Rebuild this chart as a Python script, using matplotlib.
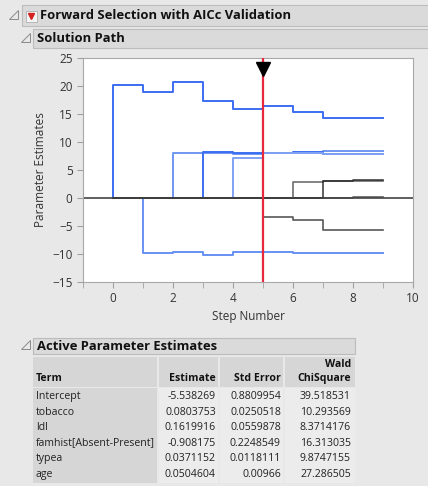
import matplotlib.pyplot as plt
from matplotlib.patches import Rectangle, Polygon
import numpy as np

# solution path: estimate of each term at steps 0..8 (held until step 9)
steps = np.arange(0, 10)
path_a = [20.2, 18.9, 20.7, 17.4, 15.9, 16.5, 15.4, 14.3, 14.3]
path_b = [0, -9.9, -9.7, -10.2, -9.7, -9.7, -9.9, -9.9, -9.9]
path_c = [0, 0, 8.0, 8.1, 7.9, 8.0, 8.1, 8.4, 8.4]
path_d = [0, 0, 0, 8.2, 8.0, 8.1, 8.2, 7.8, 7.8]
path_e = [0, 0, 0, 0, 7.2, 8.1, 8.0, 7.9, 7.9]
path_f = [0, 0, 0, 0, 0, -3.4, -3.9, -5.8, -5.8]
path_g = [0, 0, 0, 0, 0, 0, 2.9, 3.0, 3.0]
path_h = [0, 0, 0, 0, 0, 0, 0, 3.1, 3.2]
path_i = [0, 0, 0, 0, 0, 0, 0, 0, 0.2]
active_paths = [path_a, path_b, path_c, path_d, path_e]
other_paths = [path_f, path_g, path_h, path_i]
best_step = 5

# active parameter estimates table
terms = ["Intercept", "tobacco", "ldl", "famhist[Absent-Present]", "typea", "age"]
estimates = ["-5.538269", "0.0803753", "0.1619916", "-0.908175", "0.0371152", "0.0504604"]
std_errors = ["0.8809954", "0.0250518", "0.0559878", "0.2248549", "0.0118111", "0.00966"]
chisquares = ["39.518531", "10.293569", "8.3714176", "16.313035", "9.8747155", "27.286505"]

plt.rcParams['font.family'] = ['Open Sans', 'DejaVu Sans']

W, H = 428, 486
fig = plt.figure(figsize=(W / 100, H / 100), dpi=100, facecolor='#e8e8e8')


def fx(x):
    return x / W


def fy(y):
    return 1 - y / H


def bar(x0, y0, x1, y1, title, tx):
    fig.patches.append(Rectangle((fx(x0), fy(y1)), fx(x1 - x0), (y1 - y0) / H,
                                 transform=fig.transFigure, facecolor='#dadada',
                                 edgecolor='#bcbcbc', lw=0.8))
    fig.text(fx(tx), fy((y0 + y1) / 2), title, fontsize=9.4, fontweight='bold',
             va='center', ha='left', color='#111111')


def disclosure(x, y):
    s = 4.5
    fig.patches.append(Polygon([(fx(x - s), fy(y + s)), (fx(x + s), fy(y + s)), (fx(x + s), fy(y - s))],
                               closed=True, transform=fig.transFigure, facecolor='none',
                               edgecolor='#8a8a8a', lw=0.7))


# header bars
bar(22, 5, 430, 26, "Forward Selection with AICc Validation", 40)
disclosure(14, 15)
fig.patches.append(Rectangle((fx(26), fy(22)), fx(11), 11 / H, transform=fig.transFigure,
                             facecolor='#f4f4f4', edgecolor='#b0b0b0', lw=0.6))
fig.lines.append(plt.Line2D([fx(31.5)], [fy(16)], marker='v', color='#d42020', markersize=5,
                            transform=fig.transFigure))
bar(33, 29, 430, 48, "Solution Path", 37)
disclosure(26, 38)

# solution path plot
ax = fig.add_axes([fx(83), fy(282), fx(330), 224 / H])
ax.set_facecolor('white')
ax.axhline(0, color='#333333', lw=1.1, zorder=1)
blues = ['#3b6ef0', '#6690f4', '#6f96f2', '#3b6ef0', '#7fa2f4']
for p, c in zip(active_paths, blues):
    ax.plot(np.r_[0, steps], np.r_[0, p, p[-1]], drawstyle='steps-post', color=c, lw=1.4, zorder=2)
greys = ['#3a3a3a', '#555555', '#222222', '#444444']
for p, c in zip(other_paths, greys):
    ax.plot(np.r_[0, steps], np.r_[0, p, p[-1]], drawstyle='steps-post', color=c, lw=1.2,
            alpha=0.85, zorder=2)
ax.axvline(best_step, color='#e8283c', lw=1.6, zorder=3)
ax.plot([best_step], [23.0], marker='v', color='black', markersize=10, zorder=4, clip_on=False)

ax.set_xlim(-1, 10)
ax.set_ylim(-15, 25)
ax.set_xticks(np.arange(0, 11, 2))
ax.set_xticks(np.arange(-1, 10, 2), minor=True)
ax.set_yticks(np.arange(-15, 26, 5))
for s in ax.spines.values():
    s.set_color('#a8a8a8')
ax.tick_params(which='both', colors='#a0a0a0', labelcolor='#333333', labelsize=8.5, length=4)
ax.set_xlabel('Step Number', fontsize=8.5, color='#333333', labelpad=3)
ax.set_ylabel('Parameter Estimates', fontsize=8.5, color='#333333', labelpad=4)

# active parameter estimates table
fig.patches.append(Rectangle((fx(33), fy(354)), fx(322), 16 / H, transform=fig.transFigure,
                             facecolor='#dadada', edgecolor='#bcbcbc', lw=0.8))
fig.text(fx(37), fy(346), "Active Parameter Estimates", fontsize=9.4, fontweight='bold',
         va='center', ha='left', color='#111111')
disclosure(26, 345)

cols = [(33, 157), (159, 218), (220, 283), (285, 355)]
for x0, x1 in cols:
    fig.patches.append(Rectangle((fx(x0), fy(387)), fx(x1 - x0), 30 / H, transform=fig.transFigure,
                                 facecolor='#d6d6d6', edgecolor='none'))
fig.patches.append(Rectangle((fx(33), fy(483)), fx(124), 95 / H, transform=fig.transFigure,
                             facecolor='#d6d6d6', edgecolor='none'))
for x0, x1 in cols[1:]:
    fig.patches.append(Rectangle((fx(x0), fy(483)), fx(x1 - x0), 95 / H, transform=fig.transFigure,
                                 facecolor='#ececec', edgecolor='none'))

hk = dict(fontsize=7.6, fontweight='bold', va='center', color='#111111')
fig.text(fx(36), fy(378), "Term", ha='left', **hk)
fig.text(fx(216), fy(378), "Estimate", ha='right', **hk)
fig.text(fx(281), fy(378), "Std Error", ha='right', **hk)
fig.text(fx(351), fy(364), "Wald", ha='right', **hk)
fig.text(fx(351), fy(379), "ChiSquare", ha='right', **hk)

ck = dict(fontsize=7.6, va='center', color='#222222')
for i in range(len(terms)):
    y = fy(396.5 + i * 15.5)
    fig.text(fx(36), y, terms[i], ha='left', **ck)
    fig.text(fx(216), y, estimates[i], ha='right', **ck)
    fig.text(fx(281), y, std_errors[i], ha='right', **ck)
    fig.text(fx(351), y, chisquares[i], ha='right', **ck)

fig.savefig('out.png', dpi=100, facecolor=fig.get_facecolor())
